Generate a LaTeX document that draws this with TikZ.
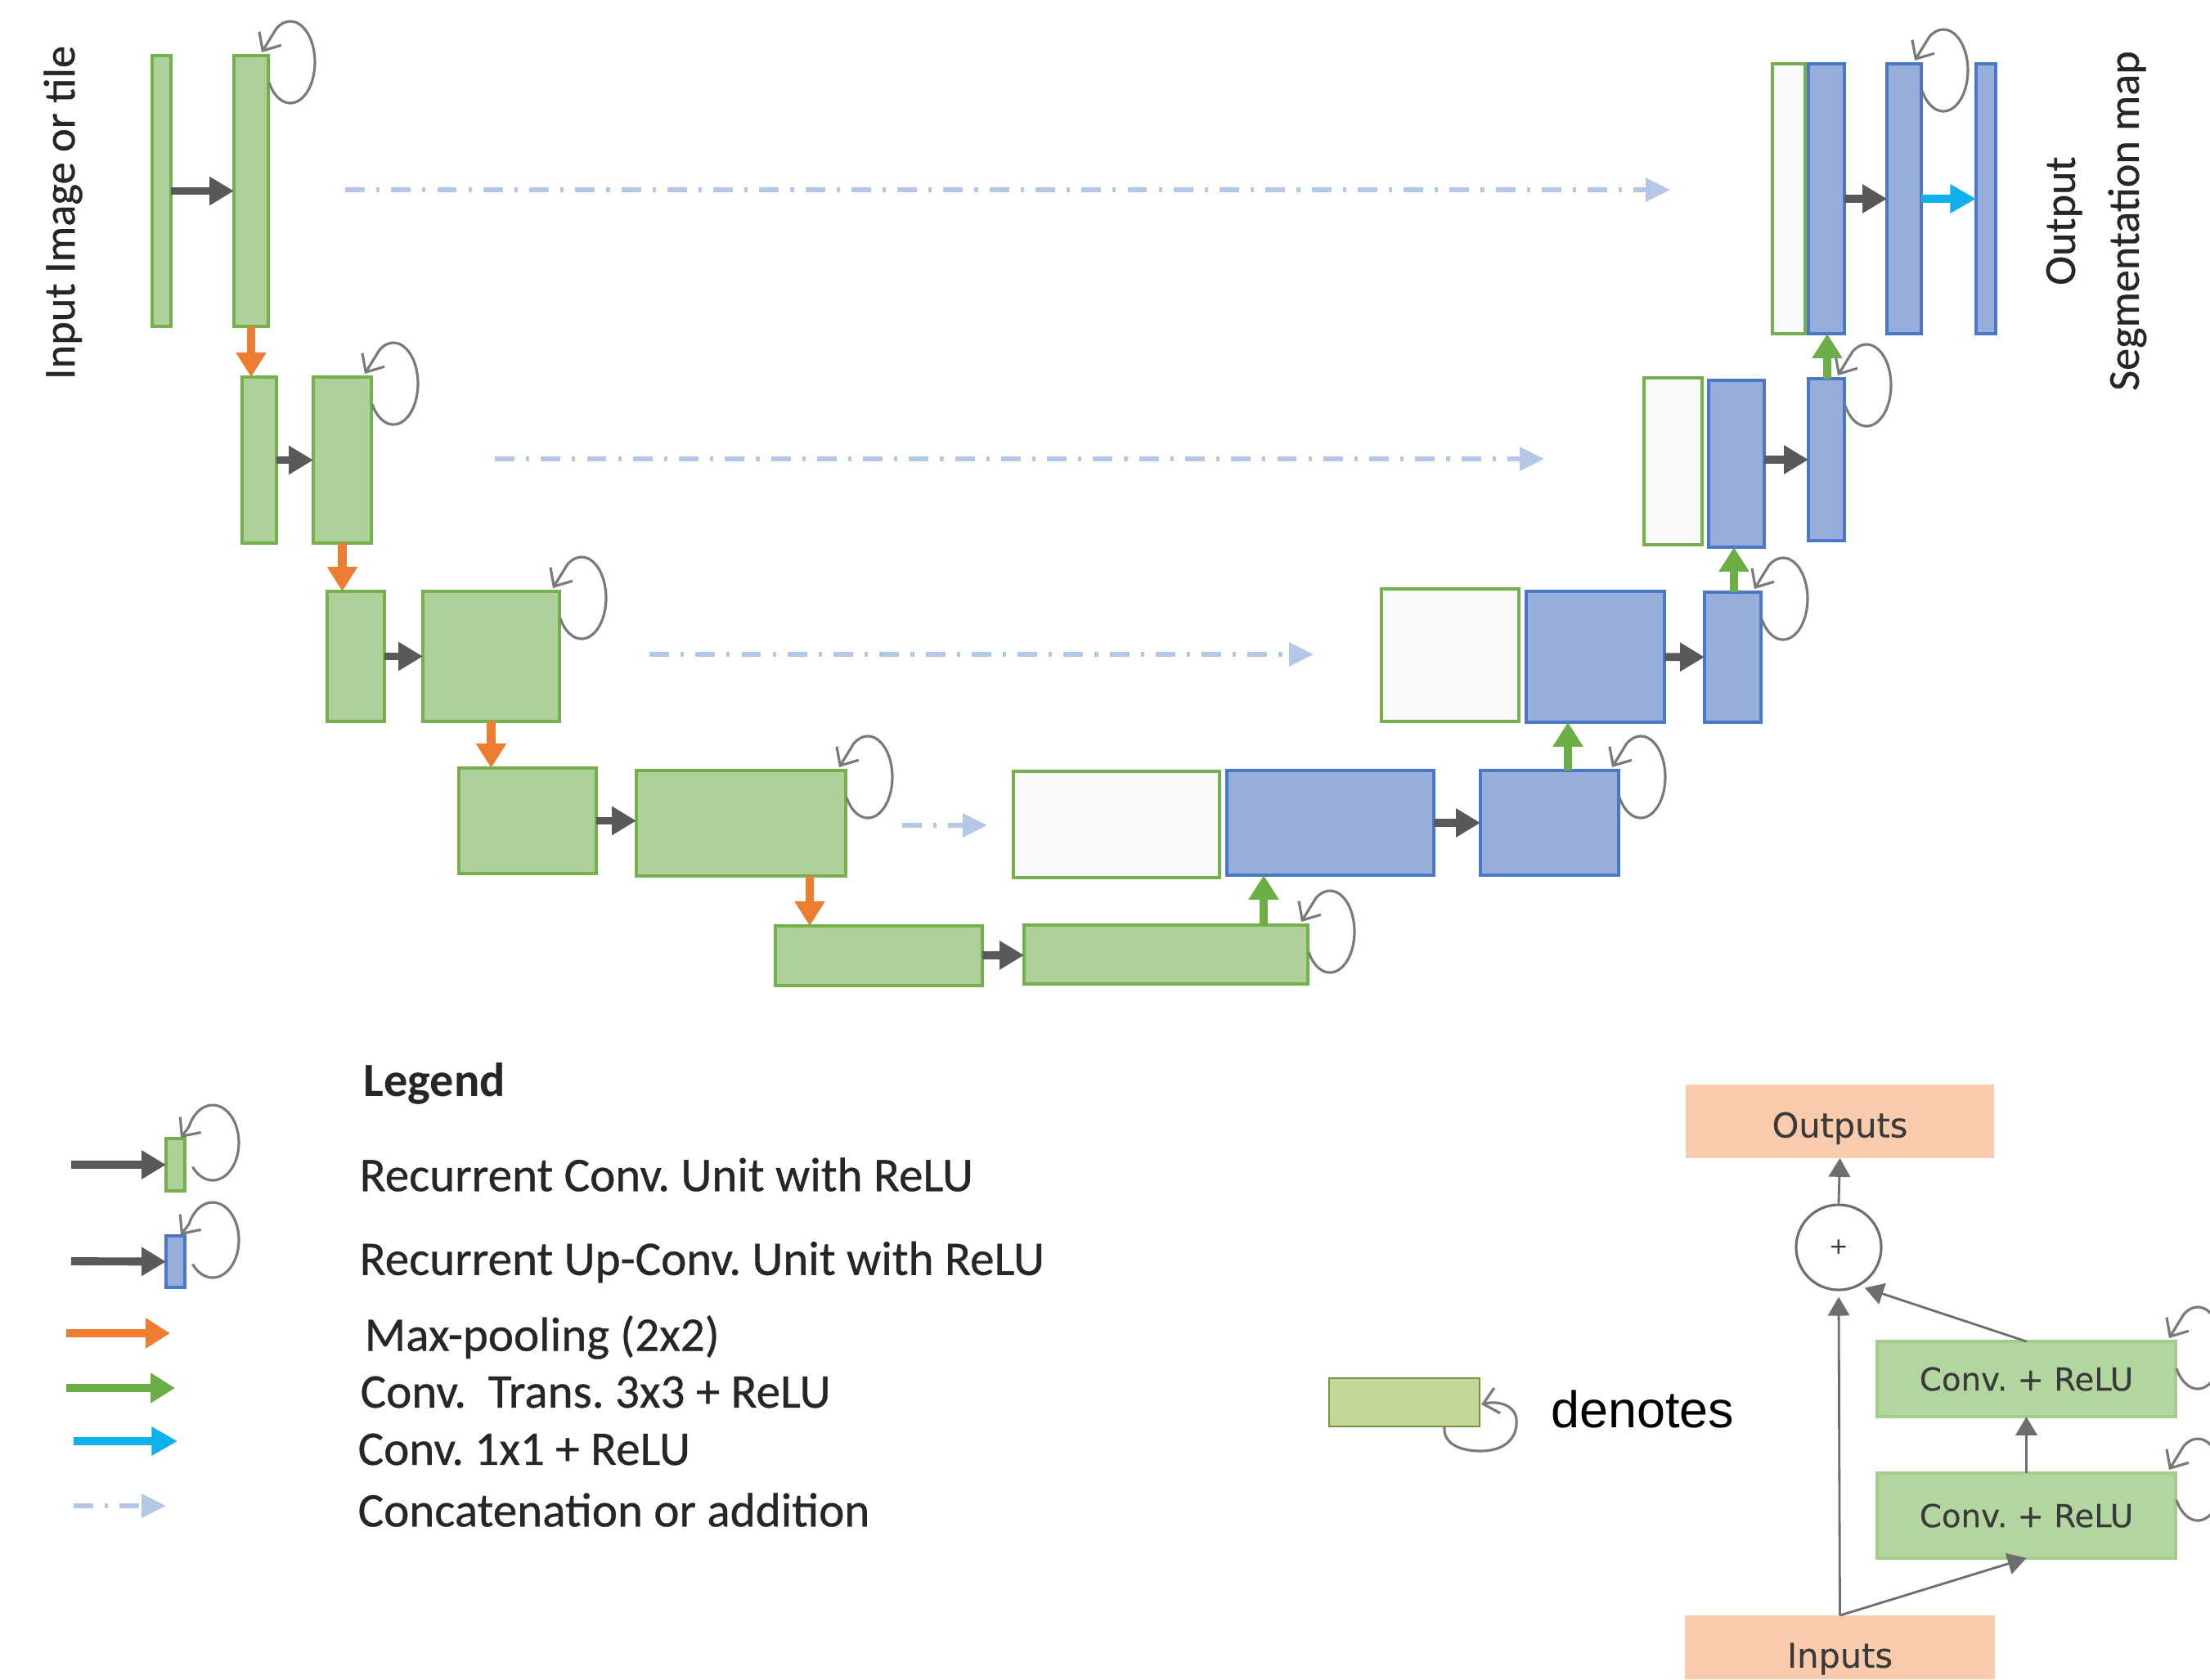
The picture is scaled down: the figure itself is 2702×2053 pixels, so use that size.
\documentclass[tikz,border=0pt]{standalone}
\usepackage{fontspec}
\setmainfont{Carlito}
\newfontfamily\calb[FakeBold=0.5]{Carlito}
\newfontfamily\dejavu{DejaVu Sans}
\newfontfamily\dejavub[FakeBold=0.3]{DejaVu Sans}
\newfontfamily\arialf{Liberation Sans}
\usetikzlibrary{arrows.meta,fit}
\frenchspacing
\definecolor{gfill}{HTML}{AFCF9B}
\definecolor{gline}{HTML}{74B14C}
\definecolor{bfill}{HTML}{97AEDB}
\definecolor{bline}{HTML}{4A78C8}
\definecolor{wfill}{HTML}{F9F9F9}
\definecolor{darr}{HTML}{595959}
\definecolor{oarr}{HTML}{ED7D31}
\definecolor{garr}{HTML}{6AAE45}
\definecolor{carr}{HTML}{0FB0EE}
\definecolor{skipc}{HTML}{B4C7E7}
\definecolor{loopc}{HTML}{7A7A7A}
\definecolor{peach}{HTML}{F8CBAD}
\definecolor{cfill}{HTML}{B3D6A0}
\definecolor{cline}{HTML}{A3CD8B}
\definecolor{dfill}{HTML}{C4D79B}
\definecolor{dline}{HTML}{77933C}
\definecolor{txt}{HTML}{262626}
\definecolor{rtxt}{HTML}{3A3A3A}
\definecolor{rarr}{HTML}{6E6E6E}
\newcommand\rloop[1]{\draw[loopst] ([shift={(1,-33)}]#1.north east) arc[start angle=-150, end angle=125, x radius=30, y radius=50] -- ([shift={(-8,4)}]#1.north east);}
\newcommand\sloop[1]{\draw[loopst] ([shift={(9.5,-34.6)}]#1.north east) arc[start angle=-140, end angle=155, x radius=32, y radius=46] -- ([shift={(-5,1)}]#1.north east);}
\begin{document}
\begin{tikzpicture}[x=0.01cm,y=0.01cm,
  box/.style={inner sep=0pt, outer sep=0pt, line width=1.2pt},
  gbox/.style={box, fill=gfill, draw=gline},
  bbox/.style={box, fill=bfill, draw=bline},
  wbox/.style={box, fill=wfill, draw=gline},
  darrow/.style={draw=darr, line width=2.8pt, -{Triangle[length=8.5pt,width=9.5pt]}},
  oarrow/.style={draw=oarr, line width=3pt, -{Triangle[length=8.5pt,width=10pt]}},
  garrow/.style={draw=garr, line width=3pt, -{Triangle[length=8.5pt,width=10pt]}},
  carrow/.style={draw=carr, line width=2.6pt, -{Triangle[length=9pt,width=9.5pt]}},
  skiparrow/.style={draw=skipc, line width=1.5pt, dash pattern=on 6.8pt off 4pt on 1.2pt off 4pt, -{Triangle[length=8.5pt,width=8pt]}},
  loopst/.style={draw=loopc, line width=0.9pt, -{Straight Barb[length=5pt,width=9pt]}},
  rarrow/.style={draw=rarr, line width=0.8pt, -{Triangle[length=6.5pt,width=7.5pt]}},
  lbl/.style={text=txt, inner sep=0pt},
]
\fill[white] (0,0) rectangle (2702,-2053);
\useasboundingbox (0,0) rectangle (2702,-2053);

% ---------- encoder ----------
\node[gbox, fit={(186,-68) (209,-399)}] (E1a) {};
\node[gbox, fit={(286,-68) (328,-399)}] (E1b) {};
\node[gbox, fit={(296,-461) (338,-664)}] (E2a) {};
\node[gbox, fit={(383,-461) (454,-664)}] (E2b) {};
\node[gbox, fit={(400,-723) (470,-882)}] (E3a) {};
\node[gbox, fit={(517,-723) (684,-882)}] (E3b) {};
\node[gbox, fit={(561,-939) (729,-1068)}] (E4a) {};
\node[gbox, fit={(778,-942) (1034,-1071)}] (E4b) {};
\node[gbox, fit={(948,-1132) (1201,-1205)}] (E5a) {};
\node[gbox, fit={(1252,-1131) (1599,-1203)}] (E5b) {};

% ---------- decoder ----------
\node[wbox, fit={(1239,-943) (1491,-1073)}] (W4) {};
\node[bbox, fit={(1500,-942) (1753,-1070)}] (D4a) {};
\node[bbox, fit={(1810,-942) (1979,-1070)}] (D4b) {};
\node[wbox, fit={(1689,-720) (1857,-882)}] (W3) {};
\node[bbox, fit={(1866,-723) (2035,-883)}] (D3a) {};
\node[bbox, fit={(2084,-724) (2153,-883)}] (D3b) {};
\node[wbox, fit={(2010,-462) (2081,-666)}] (W2) {};
\node[bbox, fit={(2089,-465) (2157,-669)}] (D2a) {};
\node[bbox, fit={(2211,-463) (2255,-661)}] (D2b) {};
\node[wbox, fit={(2167,-78) (2207,-408)}] (W1) {};
\node[bbox, fit={(2211,-78) (2255,-408)}] (D1a) {};
\node[bbox, fit={(2307,-78) (2349,-408)}] (D1b) {};
\node[bbox, fit={(2416,-78) (2440,-408)}] (OUT) {};

% ---------- loops ----------
\rloop{E1b} \rloop{E2b} \rloop{E3b} \rloop{E4b} \rloop{E5b}
\rloop{D4b} \rloop{D3b} \rloop{D2b} \rloop{D1b}

% ---------- gray arrows ----------
\draw[darrow] (E1a) -- (E1b);
\draw[darrow] (E2a) -- (E2b);
\draw[darrow] (E3a) -- (E3b);
\draw[darrow] (E4a.east) -- (E4a.east -| E4b.west);
\draw[darrow] (E5a) -- (E5b);
\draw[darrow] (D4a) -- (D4b);
\draw[darrow] (D3a) -- (D3b);
\draw[darrow] (D2a.east |- D2b.east) -- (D2b.west);
\draw[darrow] (D1a) -- (D1b);
\draw[carrow] (D1b) -- (OUT);

% ---------- max pooling ----------
\coordinate (o4) at (990,0);
\draw[oarrow] (E1b.south) -- (E1b.south |- E2a.north);
\draw[oarrow] (E2b.south) -- (E2b.south |- E3a.north);
\draw[oarrow] (E3b.south) -- (E3b.south |- E4a.north);
\draw[oarrow] (E4b.south -| o4) -- (E5a.north -| o4);

% ---------- up conv ----------
\coordinate (g5) at (1545,0);
\coordinate (g4) at (1917,0);
\coordinate (g3) at (2120,0);
\coordinate (g2) at (2234,0);
\draw[garrow] (E5b.north -| g5) -- (D4a.south -| g5);
\draw[garrow] (D4b.north -| g4) -- (D3a.south -| g4);
\draw[garrow] (D3b.north -| g3) -- (D2a.south -| g3);
\draw[garrow] (D2b.north -| g2) -- (D1a.south -| g2);

% ---------- skip connections ----------
\coordinate (s1a) at (422,-232);  \coordinate (s1b) at (2042,-232);
\coordinate (s2a) at (605,-561);  \coordinate (s2b) at (1888,-561);
\coordinate (s3a) at (794,-800);  \coordinate (s3b) at (1606,-800);
\coordinate (s4a) at (1103,-1009); \coordinate (s4b) at (1207,-1009);
\draw[skiparrow] (s1a) -- (s1b);
\draw[skiparrow] (s2a) -- (s2b);
\draw[skiparrow] (s3a) -- (s3b);
\draw[skiparrow] (s4a) -- (s4b);

% ---------- side labels ----------
\node[lbl, rotate=90, font=\calb\fontsize{15.5}{19}\selectfont] (inlbl) at (77,-260) {Input Image or tile};
\node[lbl, rotate=90, align=center, font=\calb\fontsize{15.4}{22.2}\selectfont] (outlbl) at (2563,-270) {Output\\Segmentation map};

% ---------- legend ----------
\node[lbl, anchor=west, font=\bfseries\fontsize{16.6}{20}\selectfont] (leg) at (444,-1325) {Legend};
\node[box, fill=gfill, draw=gline, line width=1pt, fit={(203,-1392) (226,-1456)}] (LG) {};
\node[box, fill=bfill, draw=bline, line width=1pt, fit={(203,-1511) (226,-1574)}] (LB) {};
\coordinate (la1) at (87,-1424);
\coordinate (la2) at (87,-1542);
\draw[darrow] (la1) -- (LG.west);
\draw[darrow] (la2) -- (LB.west);
\sloop{LG} \sloop{LB}
\coordinate (lo1) at (81,-1630);  \coordinate (lo2) at (208,-1630);
\coordinate (lg1) at (81,-1697);  \coordinate (lg2) at (214,-1697);
\coordinate (lc1) at (90,-1762);  \coordinate (lc2) at (217,-1762);
\coordinate (ls1) at (90,-1841);  \coordinate (ls2) at (203,-1841);
\draw[oarrow] (lo1) -- (lo2);
\draw[garrow] (lg1) -- (lg2);
\draw[carrow] (lc1) -- (lc2);
\draw[skiparrow] (ls1) -- (ls2);
\begin{scope}[every node/.style={lbl, anchor=west, font=\calb\fontsize{16.8}{20}\selectfont}]
\node (t1) at (439,-1436) {Recurrent Conv. Unit with ReLU};
\node (t2) at (439,-1543) {Recurrent Up-Conv. Unit with ReLU};
\node (t3) at (445,-1635) {Max-pooling (2x2)};
\node (t4) at (440,-1702) {Conv.\ \ Trans. 3x3 + ReLU};
\node (t5) at (437,-1772) {Conv. 1x1 + ReLU};
\node (t6) at (437,-1846) {Concatenation or addition};
\end{scope}

% ---------- denotes ----------
\node[box, fill=dfill, draw=dline, line width=0.8pt, fit={(1625,-1685) (1809,-1744)}] (den) {};
\draw[loopst] ([shift={(-43,0)}]den.south east)
  .. controls ([shift={(-45,-21)}]den.south east) and ([shift={(-24,-30)}]den.south east) .. ([shift={(1,-30)}]den.south east)
  .. controls ([shift={(31,-30)}]den.south east) and ([shift={(47,-14)}]den.south east) .. ([shift={(45,9)}]den.south east)
  .. controls ([shift={(43,26)}]den.south east) and ([shift={(23,32)}]den.south east) .. ([shift={(2,27)}]den.south east);
\node[inner sep=0pt, text=black, font=\arialf\fontsize{17.9}{21}\selectfont] (dentxt) at (2008,-1723) {denotes};

% ---------- recurrent block ----------
\node[box, fill=peach, fit={(2061,-1326) (2438,-1416)}] (Outp) {};
\node[text=rtxt, font=\dejavub\fontsize{11.8}{14}\selectfont] at ([yshift=-2.4pt]Outp.center) {Outputs};
\node[box, fill=peach, fit={(2060,-1975) (2439,-2053)}] (Inp) {};
\node[text=rtxt, font=\dejavub\fontsize{11.8}{14}\selectfont] at ([yshift=-4pt]Inp.center) {Inputs};
\node[box, fill=cfill, draw=cline, line width=1pt, fit={(2295,-1640) (2660,-1732)}] (C1) {};
\node[text=rtxt, font=\dejavub\fontsize{11}{13}\selectfont] at (C1.center) {Conv. + ReLU};
\node[box, fill=cfill, draw=cline, line width=1pt, fit={(2295,-1801) (2660,-1905)}] (C2) {};
\node[text=rtxt, font=\dejavub\fontsize{11}{13}\selectfont] at (C2.center) {Conv. + ReLU};
\node[circle, draw=rarr, fill=white, line width=0.9pt, minimum size=1.04cm, inner sep=0pt, text=rtxt, font=\dejavu\fontsize{8}{9}\selectfont] (plus) at (2248,-1525) {+};
\rloop{C1} \rloop{C2}
\draw[rarrow] (plus.north) -- (Outp.south);
\draw[rarrow, shorten >=2pt] (Inp.north) -- (plus.south);
\draw[rarrow] (Inp.north) -- (C2.south);
\draw[rarrow] (C2.north) -- (C1.south);
\draw[rarrow, shorten >=2pt] (C1.north) -- (plus.-62);
\end{tikzpicture}
\end{document}
